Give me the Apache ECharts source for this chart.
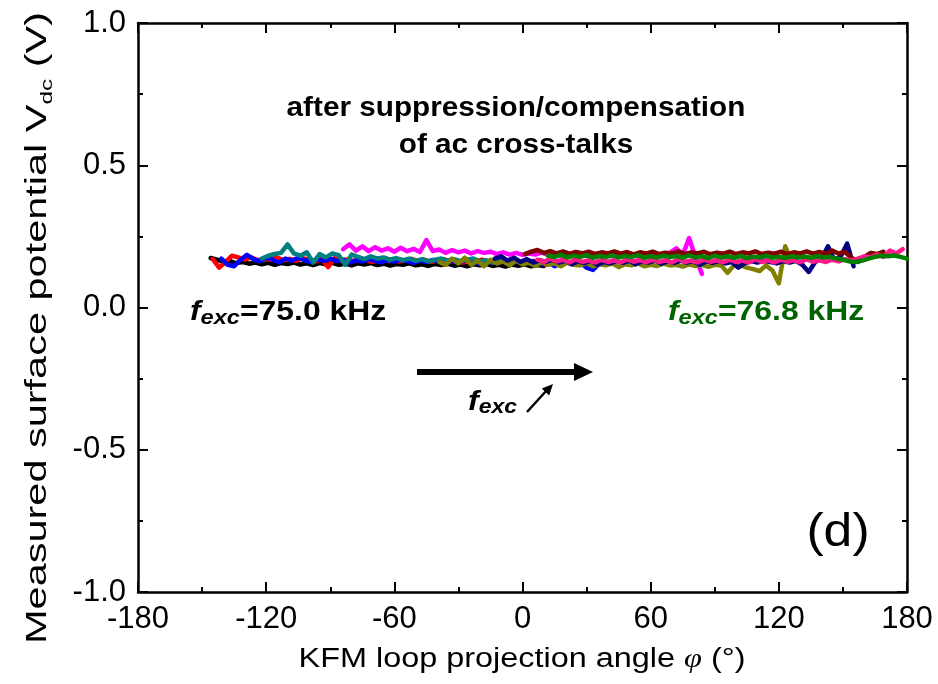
<!DOCTYPE html>
<html>
<head>
<meta charset="utf-8">
<script src="https://cdn.jsdelivr.net/npm/echarts@6/dist/echarts.min.js"></script>
<style>
  html, body { margin: 0; padding: 0; background: #fff; }
  #chart { width: 938px; height: 684px; }
</style>
</head>
<body>
<div id="chart"></div>
<script>
// Axis ranges and tick labels
const xTicks = [-180, -120, -60, 0, 60, 120, 180];
const yTicks = [-1.0, -0.5, 0.0, 0.5, 1.0];

// Sweep step of the projection angle (degrees) and start angle of each trace
const angleStep = 3;
const starts = {
  black: -146, red: -145, blue: -141, teal: -122, magenta: -84,
  olive: -39, navy: -13, maroon: 1, pink: 7, green: 12
};

// Measured V_dc traces (V), one per excitation frequency
const black = [0.174,0.168,0.160,0.163,0.156,0.160,0.154,0.158,0.152,0.157,
  0.150,0.156,0.153,0.158,0.151,0.155,0.149,0.156,0.152,0.157,
  0.150,0.154,0.148,0.155,0.151,0.156,0.149,0.154,0.147,0.153,
  0.150,0.155,0.148,0.152,0.146,0.153,0.149,0.154,0.147,0.151,
  0.145,0.152,0.148,0.153,0.146,0.150,0.144,0.151,0.147,0.152,
  0.145,0.149,0.146];
const red = [0.170,0.140,0.160,0.182,0.176,0.168,0.176,0.166,0.172,0.168,
  0.176,0.166,0.171,0.164,0.173,0.168,0.162,0.170,0.142,0.174,
  0.165,0.169,0.163,0.171,0.167,0.160,0.168,0.164,0.170,0.162,
  0.166,0.171,0.163,0.168,0.160,0.166,0.170,0.162,0.165,0.158,
  0.166,0.161,0.168,0.163,0.158,0.165,0.160,0.167,0.162,0.157,
  0.164,0.159,0.150,0.162,0.157,0.163,0.158];
const blue = [0.172,0.150,0.145,0.168,0.185,0.170,0.162,0.176,0.168,0.158,
  0.172,0.165,0.175,0.166,0.160,0.170,0.164,0.172,0.163,0.168,
  0.158,0.166,0.162,0.170,0.164,0.159,0.167,0.161,0.168,0.163,
  0.157,0.165,0.160,0.167,0.162,0.156,0.164,0.159,0.166,0.161,
  0.155,0.163,0.158,0.165,0.160,0.154,0.162,0.157,0.164,0.159,
  0.153,0.161,0.145,0.156,0.160,0.152,0.158,0.140,0.132,0.155,0.158];
const teal = [0.172,0.182,0.188,0.192,0.222,0.190,0.182,0.194,0.158,0.188,
  0.176,0.190,0.184,0.150,0.186,0.178,0.170,0.180,0.172,0.176,
  0.168,0.174,0.166,0.172,0.164,0.170,0.162,0.168,0.172,0.165,
  0.170,0.163,0.168,0.172,0.162,0.166,0.158,0.164,0.160,0.166];
const magenta = [0.205,0.222,0.200,0.215,0.198,0.212,0.200,0.208,0.196,0.210,
  0.198,0.206,0.195,0.237,0.198,0.204,0.192,0.202,0.194,0.200,
  0.190,0.198,0.192,0.196,0.188,0.194,0.186,0.192,0.185,0.190,
  0.186,0.194,0.184,0.190,0.182,0.192,0.184,0.189,0.181,0.190,
  0.183,0.188,0.180,0.190,0.182,0.187,0.179,0.188,0.181,0.186,
  0.180,0.192,0.208,0.184,0.244,0.176,0.118];
const olive = [0.160,0.150,0.172,0.155,0.175,0.150,0.165,0.145,0.168,0.155,
  0.162,0.148,0.165,0.152,0.158,0.146,0.160,0.150,0.155,0.145,
  0.158,0.150,0.148,0.156,0.145,0.152,0.148,0.155,0.142,0.152,
  0.148,0.155,0.145,0.150,0.146,0.154,0.148,0.150,0.144,0.152,
  0.146,0.150,0.143,0.150,0.148,0.122,0.148,0.150,0.140,0.135,
  0.128,0.148,0.130,0.085,0.215,0.160];
const navy = [0.172,0.180,0.165,0.175,0.160,0.170,0.158,0.166,0.160,0.168,
  0.158,0.164,0.152,0.162,0.156,0.165,0.150,0.160,0.155,0.163,
  0.157,0.165,0.152,0.162,0.158,0.166,0.154,0.162,0.157,0.165,
  0.158,0.163,0.150,0.162,0.157,0.164,0.155,0.160,0.140,0.156,
  0.163,0.158,0.165,0.160,0.155,0.163,0.158,0.164,0.150,0.125,
  0.160,0.172,0.215,0.168,0.180,0.225,0.145];
const maroon = [0.188,0.196,0.202,0.192,0.198,0.190,0.197,0.188,0.195,0.190,
  0.196,0.188,0.194,0.190,0.197,0.189,0.195,0.187,0.194,0.190,
  0.196,0.188,0.193,0.189,0.197,0.188,0.194,0.190,0.196,0.187,
  0.193,0.189,0.196,0.188,0.194,0.190,0.197,0.188,0.193,0.189,
  0.196,0.188,0.194,0.190,0.197,0.189,0.195,0.188,0.200,0.190,
  0.195,0.175,0.160,0.178,0.192,0.188,0.196];
const pink = [0.168,0.160,0.172,0.162,0.168,0.158,0.170,0.160,0.166,0.158,
  0.168,0.160,0.166,0.158,0.170,0.161,0.166,0.159,0.168,0.160,
  0.166,0.158,0.170,0.160,0.165,0.158,0.168,0.161,0.166,0.159,
  0.168,0.160,0.165,0.158,0.170,0.160,0.166,0.158,0.168,0.161,
  0.166,0.159,0.170,0.161,0.166,0.160,0.168,0.162,0.170,0.165,
  0.172,0.180,0.176,0.186,0.178,0.200,0.190,0.205];
const green = [0.182,0.178,0.185,0.176,0.182,0.178,0.184,0.175,0.181,0.177,
  0.183,0.176,0.181,0.177,0.184,0.175,0.180,0.176,0.182,0.177,
  0.181,0.175,0.183,0.176,0.180,0.174,0.182,0.176,0.180,0.175,
  0.181,0.174,0.179,0.176,0.182,0.175,0.178,0.174,0.180,0.176,
  0.179,0.175,0.180,0.176,0.178,0.172,0.168,0.162,0.160,0.165,
  0.172,0.178,0.182,0.180,0.183,0.178,0.172];

const traces = [
  { name: 'black', values: black, color: '#000000' },
  { name: 'red', values: red, color: '#ff0000' },
  { name: 'blue', values: blue, color: '#0000ff' },
  { name: 'teal', values: teal, color: '#008080' },
  { name: 'magenta', values: magenta, color: '#ff00ff' },
  { name: 'olive', values: olive, color: '#808000' },
  { name: 'navy', values: navy, color: '#000080' },
  { name: 'maroon', values: maroon, color: '#800000' },
  { name: 'pink', values: pink, color: '#ff1a8c' },
  { name: 'green', values: green, color: '#008000' }
];

const FONT = 'Liberation Sans, Arial, sans-serif';

function toPairs(name, values) {
  return values.map((v, i) => [starts[name] + i * angleStep, v]);
}

const axisLineStyle = { color: '#000', width: 2.5 };
function xAxisDef(pos, showLabels) {
  return {
    type: 'value', position: pos, min: xTicks[0], max: xTicks[xTicks.length - 1], interval: 60,
    axisLine: { show: true, onZero: false, lineStyle: axisLineStyle },
    axisTick: { show: true, inside: true, length: 10, lineStyle: { color: '#000', width: 2 } },
    minorTick: { show: true, splitNumber: 2, length: 5, lineStyle: { color: '#000', width: 2 } },
    splitLine: { show: false },
    axisLabel: { show: showLabels, color: '#000', fontSize: 31, fontFamily: FONT, margin: 12 }
  };
}
function yAxisDef(pos, showLabels) {
  return {
    type: 'value', position: pos, min: yTicks[0], max: yTicks[yTicks.length - 1], interval: 0.5,
    axisLine: { show: true, onZero: false, lineStyle: axisLineStyle },
    axisTick: { show: true, inside: true, length: 10, lineStyle: { color: '#000', width: 2 } },
    minorTick: { show: true, splitNumber: 2, length: 5, lineStyle: { color: '#000', width: 2 } },
    splitLine: { show: false },
    axisLabel: { show: showLabels, color: '#000', fontSize: 31, fontFamily: FONT, margin: 12,
      formatter: v => v.toFixed(1) }
  };
}

const chart = echarts.init(document.getElementById('chart'), null, { renderer: 'canvas' });

const sub = (size) => ({ fontSize: size, fontWeight: 'bold', fontStyle: 'italic', fontFamily: FONT,
  lineHeight: 16, verticalAlign: 'bottom' });

chart.setOption({
  animation: false,
  backgroundColor: '#fff',
  grid: { left: 138, right: 31, top: 23, bottom: 92, containLabel: false },
  xAxis: [xAxisDef('bottom', true), xAxisDef('top', false)],
  yAxis: [yAxisDef('left', true), yAxisDef('right', false)],
  series: traces.map(t => ({
    type: 'line', name: t.name, xAxisIndex: 0, yAxisIndex: 0,
    data: toPairs(t.name, t.values), showSymbol: false, symbol: 'none',
    lineStyle: { color: t.color, width: 4.5, join: 'round', cap: 'round' },
    itemStyle: { color: t.color }
  })),
  graphic: [
    // y-axis title
    { type: 'text', x: 38, y: 328, rotation: Math.PI / 2, scaleX: 1.43,
      style: { text: '{a|Measured surface potential V}{s|dc}{a| (V)}', textAlign: 'center', textVerticalAlign: 'middle',
        rich: { a: { fontSize: 29, fontFamily: FONT, fill: '#000', lineHeight: 36 },
                s: { fontSize: 17, fontFamily: FONT, fill: '#000', lineHeight: 16, verticalAlign: 'bottom' } } } },
    // x-axis title
    { type: 'text', x: 522, y: 660, scaleX: 1.2,
      style: { text: '{a|KFM loop projection angle }{p|φ}{a| (°)}', textAlign: 'center', textVerticalAlign: 'middle',
        rich: { a: { fontSize: 27, fontFamily: FONT, fill: '#000' },
                p: { fontSize: 27, fontFamily: 'Liberation Serif, serif', fontStyle: 'italic', fill: '#000' } } } },
    // annotation
    { type: 'text', x: 516, y: 127, scaleX: 1.1,
      style: { text: 'after suppression/compensation\nof ac cross-talks', textAlign: 'center', textVerticalAlign: 'middle',
        font: 'bold 27px ' + FONT, fill: '#000', lineHeight: 37 } },
    // start frequency
    { type: 'text', x: 190, y: 313, scaleX: 1.18,
      style: { text: '{f|f}{s|exc}{n|=75.0 kHz}', textAlign: 'left', textVerticalAlign: 'middle',
        rich: { f: { fontSize: 27, fontWeight: 'bold', fontStyle: 'italic', fontFamily: FONT, fill: '#000', lineHeight: 30 },
                s: Object.assign(sub(20), { fill: '#000' }),
                n: { fontSize: 27, fontWeight: 'bold', fontFamily: FONT, fill: '#000', lineHeight: 30 } } } },
    // end frequency
    { type: 'text', x: 668, y: 313, scaleX: 1.18,
      style: { text: '{f|f}{s|exc}{n|=76.8 kHz}', textAlign: 'left', textVerticalAlign: 'middle',
        rich: { f: { fontSize: 27, fontWeight: 'bold', fontStyle: 'italic', fontFamily: FONT, fill: '#006400', lineHeight: 30 },
                s: Object.assign(sub(20), { fill: '#006400' }),
                n: { fontSize: 27, fontWeight: 'bold', fontFamily: FONT, fill: '#006400', lineHeight: 30 } } } },
    // sweep direction arrow
    { type: 'line', shape: { x1: 417, y1: 372, x2: 578, y2: 372 }, style: { stroke: '#000', lineWidth: 6 } },
    { type: 'polygon', shape: { points: [[574, 363], [593, 372], [574, 381]] }, style: { fill: '#000' } },
    { type: 'text', x: 468, y: 402, scaleX: 1.15,
      style: { text: '{f|f}{s|exc}', textAlign: 'left', textVerticalAlign: 'middle',
        rich: { f: { fontSize: 28, fontWeight: 'bold', fontStyle: 'italic', fontFamily: FONT, fill: '#000', lineHeight: 30 },
                s: Object.assign(sub(20), { fill: '#000' }) } } },
    { type: 'line', shape: { x1: 527, y1: 412, x2: 547, y2: 390 }, style: { stroke: '#000', lineWidth: 2.5 } },
    { type: 'polygon', shape: { points: [[553, 384], [549.2, 395.4], [541.8, 388.6]] }, style: { fill: '#000' } },
    // panel label
    { type: 'text', x: 838, y: 533, scaleX: 1.1,
      style: { text: '(d)', textAlign: 'center', textVerticalAlign: 'middle', font: '47px ' + FONT, fill: '#000' } }
  ]
});
</script>
</body>
</html>
